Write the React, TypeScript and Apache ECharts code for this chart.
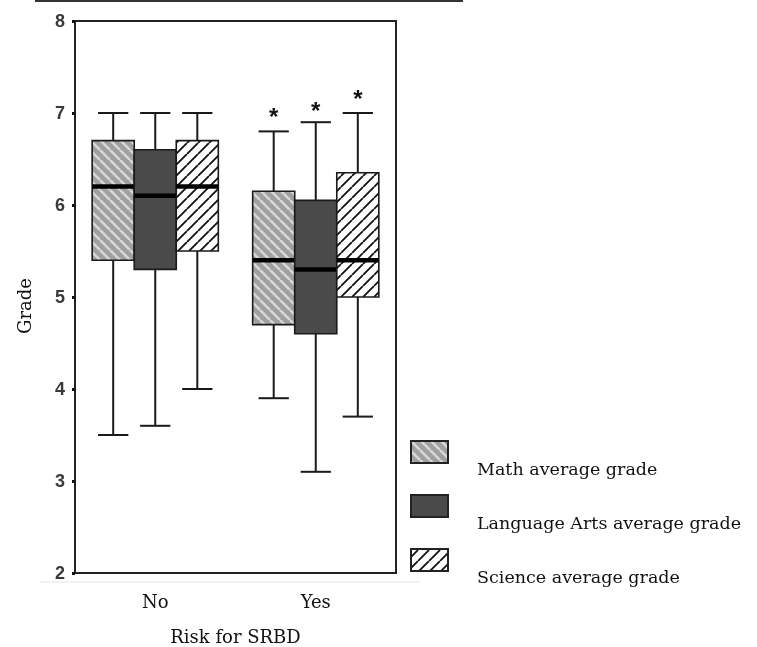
import React, { useEffect, useRef } from 'react';
import * as echarts from 'echarts';

const categories = ['No', 'Yes'];
const seriesNames = ['Math average grade', 'Language Arts average grade', 'Science average grade'];
// [min, Q1, median, Q3, max] for each category
const mathBox = [[3.5, 5.4, 6.2, 6.7, 7.0], [3.9, 4.7, 5.4, 6.15, 6.8]];
const langBox = [[3.6, 5.3, 6.1, 6.6, 7.0], [3.1, 4.6, 5.3, 6.05, 6.9]];
const sciBox = [[4.0, 5.5, 6.2, 6.7, 7.0], [3.7, 5.0, 5.4, 6.35, 7.0]];
// significance star positions (grade units), null = none
const mathStar = [null, 6.99];
const langStar = [null, 7.06];
const sciStar = [null, 7.19];
const yMin = 2;
const yMax = 8;
const yInterval = 1;

const SERIF = '"DejaVu Serif", serif';

function hatch(bg: string, fg: string, dir: string, size: number, lw: number) {
  const c = document.createElement('canvas');
  c.width = size;
  c.height = size;
  const ctx = c.getContext('2d')!;
  ctx.fillStyle = bg;
  ctx.fillRect(0, 0, size, size);
  if (fg) {
    ctx.strokeStyle = fg;
    ctx.lineWidth = lw;
    ctx.beginPath();
    for (let k = -1; k <= 1; k++) {
      if (dir === '/') {
        ctx.moveTo(k * size, size);
        ctx.lineTo(k * size + size, 0);
      } else {
        ctx.moveTo(k * size, 0);
        ctx.lineTo(k * size + size, size);
      }
    }
    ctx.stroke();
  }
  return { image: c.toDataURL(), repeat: 'repeat', imageWidth: size, imageHeight: size };
}

export default function App() {
  const ref = useRef<HTMLDivElement>(null);
  useEffect(() => {
    if (!ref.current) return;
    const chart = echarts.init(ref.current, null, { renderer: 'svg' });
    const fills = [
      hatch('#a0a0a0', '#d8d8d8', '\\', 10, 2.6),
      '#4a4a4a',
      hatch('#ffffff', '#111111', '/', 11, 1.8),
    ];
    const boxes = [mathBox, langBox, sciBox];
    const stars = [mathStar, langStar, sciStar];

    const makeRender = (idx: number) => (params: any, api: any) => {
      const cat = api.value(0);
      const mn = api.value(1);
      const q1 = api.value(2);
      const md = api.value(3);
      const q3 = api.value(4);
      const mx = api.value(5);
      const band = api.size([1, 0])[0];
      const bw = band * 0.262;
      const cx = api.coord([cat, 0])[0] + (idx - 1) * bw;
      const y = (v: number) => api.coord([cat, v])[1];
      const capW = bw * 0.72;
      const stroke = { stroke: '#1a1a1a', lineWidth: 2 };
      const children: any[] = [
        { type: 'line', shape: { x1: cx, y1: y(mx), x2: cx, y2: y(q3) }, style: stroke },
        { type: 'line', shape: { x1: cx - capW / 2, y1: y(mx), x2: cx + capW / 2, y2: y(mx) }, style: stroke },
        { type: 'line', shape: { x1: cx, y1: y(q1), x2: cx, y2: y(mn) }, style: stroke },
        { type: 'line', shape: { x1: cx - capW / 2, y1: y(mn), x2: cx + capW / 2, y2: y(mn) }, style: stroke },
        {
          type: 'rect',
          shape: { x: cx - bw / 2, y: y(q3), width: bw, height: y(q1) - y(q3) },
          style: { fill: fills[idx], stroke: '#1a1a1a', lineWidth: 1.6 },
        },
        { type: 'line', shape: { x1: cx - bw / 2, y1: y(md), x2: cx + bw / 2, y2: y(md) }, style: { stroke: '#000', lineWidth: 4.5 } },
      ];
      const s = stars[idx][params.dataIndex];
      if (s != null) {
        children.push({
          type: 'text',
          x: cx,
          y: y(s) + 3,
          style: { text: '*', fill: '#111', font: 'bold 24px "Liberation Sans", sans-serif', align: 'center', verticalAlign: 'middle' },
        });
      }
      return { type: 'group', children };
    };

    const series = boxes.map((b, idx) => ({
      type: 'custom',
      name: seriesNames[idx],
      renderItem: makeRender(idx),
      encode: { x: 0, y: [1, 2, 3, 4, 5] },
      data: b.map((v, i) => [i, ...v]),
      clip: false,
    }));

    const legendY = [441, 495, 549];
    const graphic: any[] = [
      { type: 'line', shape: { x1: 35, y1: 1, x2: 463, y2: 1 }, style: { stroke: '#333', lineWidth: 2 } },
      { type: 'line', shape: { x1: 40, y1: 582, x2: 420, y2: 582 }, style: { stroke: '#e4e4e4', lineWidth: 1 } },
    ];
    seriesNames.forEach((n, i) => {
      graphic.push({
        type: 'rect',
        shape: { x: 411, y: legendY[i], width: 37, height: 22 },
        style: { fill: fills[i], stroke: '#222', lineWidth: 2 },
      });
      graphic.push({
        type: 'text',
        x: 477,
        y: legendY[i] + 28,
        style: { text: n, fill: '#111', font: '17.5px ' + SERIF, align: 'left', verticalAlign: 'middle' },
      });
    });

    chart.setOption({
      animation: false,
      grid: {
        left: 75, right: 361, top: 21, bottom: 74,
        outerBoundsMode: 'none', containLabel: false,
        show: true, borderColor: '#222', borderWidth: 2,
      },
      xAxis: {
        type: 'category',
        data: categories,
        name: 'Risk for SRBD',
        nameLocation: 'middle',
        nameGap: 54,
        nameTextStyle: { fontFamily: SERIF, fontSize: 18, color: '#111' },
        axisLine: { lineStyle: { color: '#222', width: 2 } },
        axisTick: { alignWithLabel: true, length: 3, lineStyle: { color: '#111', width: 4 } },
        axisLabel: { fontFamily: SERIF, fontSize: 18, color: '#111', margin: 19 },
      },
      yAxis: {
        type: 'value',
        min: yMin,
        max: yMax,
        interval: yInterval,
        name: 'Grade',
        nameLocation: 'middle',
        nameGap: 42,
        nameTextStyle: { fontFamily: SERIF, fontSize: 18, color: '#111', padding: [0, 18, 0, 0] },
        axisLine: { show: true, lineStyle: { color: '#222', width: 2 } },
        axisTick: { show: true, length: 3, lineStyle: { color: '#111', width: 3 } },
        axisLabel: { fontFamily: '"Liberation Sans", Arial, sans-serif', fontWeight: 'bold', fontSize: 18, color: '#3a3a3a', margin: 10 },
        splitLine: { show: false },
      },
      series,
      graphic,
    });
    return () => chart.dispose();
  }, []);
  return <div ref={ref} style={{ position: 'fixed', left: 0, top: 0, width: 757, height: 647 }} />;
}
